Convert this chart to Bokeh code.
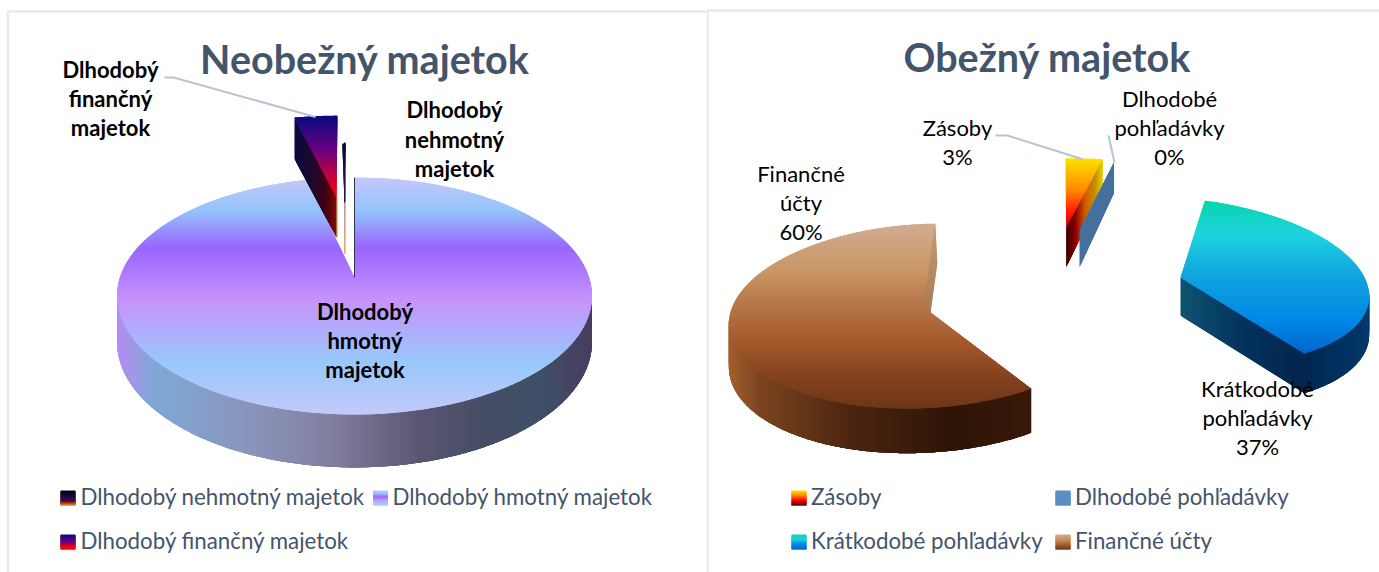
import math
import numpy as np
from bokeh.core.properties import value
from bokeh.embed import file_html
from bokeh.layouts import row
from bokeh.models import Range1d
from bokeh.plotting import figure
from bokeh.resources import INLINE

# ---- data ----
left_title = "Neobežný majetok"
left_categories = ["Dlhodobý nehmotný majetok", "Dlhodobý hmotný majetok", "Dlhodobý finančný majetok"]
left_values = [0.1, 96.3, 3.6]
right_title = "Obežný majetok"
right_categories = ["Zásoby", "Dlhodobé pohľadávky", "Krátkodobé pohľadávky", "Finančné účty"]
right_values = [3.3, 0.3, 36.8, 59.6]
right_percents = ["3%", "0%", "37%", "60%"]

# ---- style and layout ----
TITLE = "#44546a"
LEGEND = "#44546a"
BORDER = "#e4e9f2"
LEADER = "#b7c3d3"
FONT = "Lato"
PAGE_W, PAGE_H = 1379, 572


def hex2rgb(c):
    return np.array([int(c[i:i + 2], 16) for i in (1, 3, 5)], dtype=float)


def ramp(stops, t):
    ps = [s[0] for s in stops]
    if t <= ps[0]:
        return stops[0][1]
    if t >= ps[-1]:
        return stops[-1][1]
    for (a, ca), (b, cb) in zip(stops, stops[1:]):
        if a <= t <= b:
            f = (t - a) / (b - a) if b > a else 0
            m = hex2rgb(ca) * (1 - f) + hex2rgb(cb) * f
            return "#%02x%02x%02x" % tuple(int(round(x)) for x in m)
    return stops[-1][1]


def clip(poly, axis, lim, keep_above):
    out = []
    n = len(poly)
    for i in range(n):
        a, b = poly[i], poly[(i + 1) % n]
        ina = a[axis] >= lim if keep_above else a[axis] <= lim
        inb = b[axis] >= lim if keep_above else b[axis] <= lim
        if ina:
            out.append(a)
        if ina != inb:
            f = (lim - a[axis]) / (b[axis] - a[axis])
            out.append((a[0] + (b[0] - a[0]) * f, a[1] + (b[1] - a[1]) * f))
    return out


def gradient_fill(p, poly, stops, axis=1, step=1.0):
    lo = min(q[axis] for q in poly)
    hi = max(q[axis] for q in poly)
    xs, ys, cs = [], [], []
    t = lo
    while t < hi:
        band = clip(clip(poly, axis, t, True), axis, min(t + step + 1.5, hi), False)
        if len(band) >= 3:
            xs.append([q[0] for q in band])
            ys.append([q[1] for q in band])
            cs.append(ramp(stops, t + step / 2))
        t += step
    p.patches(xs, ys, fill_color=cs, line_color=None)


def project(view, deg):
    th = math.radians(deg + view["rot"])
    u, v = math.sin(th), math.cos(th)
    d = 1 + view["k"] * v
    x = view["ax"] + (view["R"] * u + view["T"] * v) / d
    y = view["ay"] - view["S"] * v / d
    return x, y, v


def drop(view, v):
    return view["H"] / (1 + view["q"] * v)


def arc(view, a0, a1, n=160):
    return [project(view, a) for a in np.linspace(a0, a1, n)]


def top_poly(view, a0, a1):
    return [(view.get("tip_x", view["ax"]), view["ay"])] + [(x, y) for x, y, _ in arc(view, a0, a1)]


def outer_wall(p, view, a0, a1, stops, n=220, reach=4):
    """Wall strips follow the rim; each one overlaps the next few so that no seams show."""
    pts = arc(view, a0, a1, n)
    xs, ys, cs = [], [], []
    for i in range(len(pts) - 1):
        x0, y0, v0 = pts[i]
        chunk = pts[i:i + reach + 1]
        top = [(q[0], q[1] - 1) for q in chunk]
        bottom = [(q[0], q[1] + drop(view, q[2])) for q in reversed(chunk)]
        xs.append([q[0] for q in top + bottom])
        ys.append([q[1] for q in top + bottom])
        cs.append(ramp(stops, (x0 + pts[i + 1][0]) / 2))
    p.patches(xs, ys, fill_color=cs, line_color=None)


def cut_wall(p, view, deg, stops):
    x, y, v = project(view, deg)
    ax, ay = view["ax"], view["ay"]
    poly = [(ax, ay), (x, y), (x, y + drop(view, v)), (ax, ay + view["H"])]
    gradient_fill(p, poly, stops, axis=0, step=1.0)


def angle_spans(values, start):
    total = sum(values)
    spans, a = [], start
    for val in values:
        b = a + val / total * 360.0
        spans.append((a, b))
        a = b
    return spans


def put_lines(p, cx, ys, lines, size, color="#000000", bold=False):
    p.text([cx] * len(lines), ys, text=lines, text_align="center", text_baseline="middle",
           text_font=value(FONT), text_font_size=size, text_color=color,
           text_font_style="bold" if bold else "normal")


def make_fig(x0, x1):
    f = figure(width=x1 - x0, height=PAGE_H, x_range=Range1d(x0, x1), y_range=Range1d(PAGE_H, 0),
               output_backend="svg", toolbar_location=None, min_border=0)
    f.axis.visible = False
    f.grid.visible = False
    f.outline_line_color = None
    f.background_fill_color = "#ffffff"
    return f


def legend(p, entries):
    for (sx, tx, y, name, stops) in entries:
        ss = [(y - 7.5 + s * 15, c) for s, c in stops]
        gradient_fill(p, [(sx, y - 7.5), (sx + 15, y - 7.5), (sx + 15, y + 7.5), (sx, y + 7.5)], ss, step=1)
        p.text([tx], [y - 2], text=[name], text_baseline="middle", text_font=value(FONT),
               text_font_size="22.3px", text_color=LEGEND)


# ---------------- left chart ----------------
pl = make_fig(0, 706)
pl.line([7.5, 7.5], [11, PAGE_H], line_color=BORDER, line_width=2.5)
pl.line([7, 706], [11, 11], line_color=BORDER, line_width=2.5)

neh, hmo, fin = angle_spans(left_values, -0.36)
hmo_view = dict(ax=354, ay=277, R=234.6, S=115.6, k=0.156, T=0, H=44.7, q=0.156, rot=0)
fin_view = dict(ax=336, ay=197, R=201, S=86, k=0.05, T=2.3, H=40, q=-0.03, rot=0)
neh_view = dict(ax=344, ay=202, R=200, S=62, k=0.05, T=0, H=51, q=0, rot=0)

hmo_top = [(177, "#c5c8fb"), (210, "#93c4fb"), (247, "#9966ff"), (300, "#c793fb"), (362, "#97c8fb"), (414, "#c5c8fb")]
hmo_wall = [(118, "#b48ef0"), (155, "#7fa8d6"), (250, "#8a94bb"), (330, "#827f9f"), (420, "#5a5672"),
            (480, "#464e66"), (540, "#3e4f66"), (590, "#4a3e60")]
fin_top = [(116, "#0a0a80"), (150, "#6a0080"), (175, "#c00040"), (197, "#ff0000")]
fin_wall = [(294, "#0a0a40"), (310, "#1a0a30"), (325, "#400018"), (337, "#8a1000")]

outer_wall(pl, hmo_view, 97, 263, hmo_wall)
gradient_fill(pl, top_poly(hmo_view, 0.0, hmo[1]), hmo_top)
xh, yh, _ = project(hmo_view, 0.0)
pl.line([354, xh], [277, yh], line_color="#34344e", line_width=1)

cut_wall(pl, fin_view, fin[0], fin_wall)
pl.line([336.5, 336.5], [197, 237], line_color="#c88a30", line_width=1)
gradient_fill(pl, top_poly(fin_view, fin[0], fin[1]), fin_top)

neh_ramp = [(142, "#0a0a20"), (170, "#1a0a50"), (202, "#300a60"), (203, "#b8909a"), (235, "#d0a080"), (253, "#e8b050")]
gradient_fill(pl, top_poly(neh_view, neh[0] - 0.3, neh[1] + 0.3), neh_ramp)
ns = np.arange(142, 253, 3.0)
pl.segment([344.3] * len(ns), ns, [344.3] * len(ns), ns + 3.2, line_width=1.6,
           line_color=[ramp(neh_ramp, t + 1) for t in ns])

pl.line([164, 173, 315], [77, 77, 116.5], line_color=LEADER, line_width=2)
put_lines(pl, 364.5, [58], [left_title], "39.5px", TITLE, True)
put_lines(pl, 110, [69, 98, 127], ["Dlhodobý", "finančný", "majetok"], "22px", bold=True)
put_lines(pl, 454, [109, 139, 168], ["Dlhodobý", "nehmotný", "majetok"], "22px", bold=True)
put_lines(pl, 364.5, [311, 340, 369], ["Dlhodobý", "hmotný", "majetok"], "22px", bold=True)

neh_swatch = [(0, "#000000"), (0.45, "#1a0a50"), (0.72, "#600030"), (1, "#ff9900")]
hmo_swatch = [(0, "#c5c8fb"), (0.2, "#93c4fb"), (0.42, "#9966ff"), (0.62, "#c793fb"), (0.85, "#97c8fb"), (1, "#c5c8fb")]
fin_swatch = [(0, "#0a0a80"), (0.5, "#6a0080"), (0.85, "#ff0000"), (1, "#ff0000")]
legend(pl, [(60, 80, 497.5, left_categories[0], neh_swatch),
            (372.5, 392, 497.5, left_categories[1], hmo_swatch),
            (60, 80, 541.5, left_categories[2], fin_swatch)])

# ---------------- right chart ----------------
pr = make_fig(706, PAGE_W)
pr.line([707, 707], [10, PAGE_H], line_color=BORDER, line_width=2.5)
pr.line([706, PAGE_W], [10, 10], line_color=BORDER, line_width=2.5)

zas, dlh, kra, fnc = angle_spans(right_values, -2.3)
zas_view = dict(ax=1065.6, ay=227, R=186, S=72, k=0.04, T=7, H=40, q=0.2, rot=0)
dlh_view = dict(ax=1079, ay=230, R=186, S=72, k=0.04, T=5, H=37, q=0.2, rot=0)
kra_view = dict(ax=1180, ay=277, R=184, S=84, k=0.04, T=-34, H=38, q=0.05, rot=7.6)
fnc_view = dict(ax=925, tip_x=930, ay=312, R=195, S=92.4, k=0.038, T=18, H=42, q=0.06, rot=0)

fnc_top = [(223, "#d2ab91"), (270, "#c99766"), (300, "#b87a4c"), (340, "#a55a2c"), (375, "#85431f"), (408, "#6e3618")]
fnc_wall = [(728, "#a5602e"), (760, "#7a4420"), (850, "#4c2510"), (950, "#2e1508"), (1040, "#3a1a0a")]
kra_top = [(200, "#05d5b0"), (235, "#1fd2de"), (280, "#0f9fe0"), (320, "#0088e4"), (353, "#0066cc")]
kra_wall = [(1180, "#0e5472"), (1240, "#03345e"), (1300, "#02254f"), (1367, "#043a6b")]
zas_top = [(158, "#ffe000"), (190, "#ff8a00"), (210, "#ff2000"), (227, "#d00000")]
zas_wall = [(1065, "#300000"), (1075, "#900000"), (1085, "#d06000"), (1095, "#c89000"), (1102, "#e8d000")]
dlh_wall = [(1079, "#44709e"), (1115, "#44709e")]

# financial accounts
outer_wall(pr, fnc_view, fnc[0], 265, fnc_wall)
gradient_fill(pr, top_poly(fnc_view, fnc[0], fnc[1]), fnc_top)
xe, ye, _ = project(fnc_view, fnc[1])
gradient_fill(pr, [(xe, ye), (xe + 2, ye + 40), (930, 312), (924, 300)], [(223, "#c39c7c"), (312, "#a87a50")], step=2)

# short-term receivables
outer_wall(pr, kra_view, 92, kra[1], kra_wall)
cut_wall(pr, kra_view, kra[1], kra_wall)
gradient_fill(pr, top_poly(kra_view, kra[0], kra[1]), kra_top)

# inventories
cut_wall(pr, zas_view, zas[1], zas_wall)
gradient_fill(pr, top_poly(zas_view, zas[0], zas[1]), zas_top)

# long-term receivables
cut_wall(pr, dlh_view, dlh[0], dlh_wall)

pr.line([995, 1007, 1083], [135, 135, 159], line_color=LEADER, line_width=2)
pr.line([1108, 1114], [135, 162], line_color=LEADER, line_width=2)

put_lines(pr, 1047, [56], [right_title], "39.5px", TITLE, True)
put_lines(pr, 957, [127, 156], ["Zásoby", right_percents[0]], "22px")
put_lines(pr, 1169, [98, 127, 156], ["Dlhodobé", "pohľadávky", right_percents[1]], "22px")
put_lines(pr, 800.5, [173, 202, 231], ["Finančné", "účty", right_percents[3]], "22px")
put_lines(pr, 1257, [388, 417, 446], ["Krátkodobé", "pohľadávky", right_percents[2]], "22px")

zas_swatch = [(0, "#ffe000"), (0.35, "#ff8000"), (0.65, "#ff0000"), (1, "#500000")]
dlh_swatch = [(0, "#5b8ec5"), (1, "#5b8ec5")]
kra_swatch = [(0, "#05d5b0"), (0.3, "#1fd2de"), (0.65, "#0088e4"), (1, "#0066cc")]
fnc_swatch = [(0, "#d2ab91"), (0.4, "#c08a5a"), (0.7, "#a55a2c"), (1, "#6e3618")]
legend(pr, [(791, 810.5, 497.5, right_categories[0], zas_swatch),
            (1055, 1074.5, 497.5, right_categories[1], dlh_swatch),
            (791, 810.5, 541.5, right_categories[2], kra_swatch),
            (1055, 1074.5, 541.5, right_categories[3], fnc_swatch)])

page = row(pl, pr, spacing=0)
open("out.html", "w").write(file_html(page, INLINE))
